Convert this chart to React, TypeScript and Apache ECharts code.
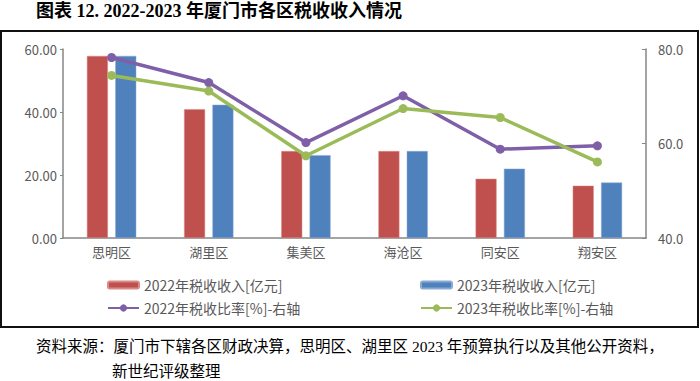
import React, { useEffect, useRef } from "react";
import * as echarts from "echarts";

const categories = ["思明区", "湖里区", "集美区", "海沧区", "同安区", "翔安区"];
const revenue2022 = [57.8, 40.9, 27.6, 27.6, 18.8, 16.6];
const revenue2023 = [57.8, 42.3, 26.3, 27.6, 22.0, 17.6];
const ratio2022 = [78.2, 72.9, 60.2, 70.1, 58.8, 59.5];
const ratio2023 = [74.4, 71.1, 57.4, 67.4, 65.5, 56.1];
const seriesNames = ["2022年税收收入[亿元]", "2023年税收收入[亿元]", "2022年税收比率[%]-右轴", "2023年税收比率[%]-右轴"];
const titleText = "图表 12. 2022-2023 年厦门市各区税收收入情况";
const sourceLine1 = "资料来源：厦门市下辖各区财政决算，思明区、湖里区 2023 年预算执行以及其他公开资料，";
const sourceLine2 = "新世纪评级整理";

const RED = "#C0504D";
const BLUE = "#4F81BD";
const PURPLE = "#7F5FA8";
const GREEN = "#9BBB59";
const AXIS = "#868686";
const LABEL = "#595959";
const FONT = "'Noto Sans CJK SC', 'Noto Sans', sans-serif";
const SERIF = "'Liberation Serif', 'DejaVu Serif', 'Noto Sans CJK SC', serif";

export default function App() {
  const ref = useRef<HTMLDivElement>(null);
  useEffect(() => {
    document.body.style.margin = "0";
    const chart = echarts.init(ref.current!, undefined, { renderer: "svg" });
    const legendText = { fontSize: 14, color: LABEL, fontFamily: FONT };
    const mkLegend = (name: string, left: number, top: number, isLine: boolean) => ({
      data: [name],
      left,
      top,
      itemWidth: 31,
      itemHeight: isLine ? 9 : 7,
      itemGap: 2,
      textStyle: legendText,
    });
    chart.setOption({
      animation: false,
      backgroundColor: "#fff",
      textStyle: { fontFamily: FONT },
      graphic: [
        {
          type: "text",
          left: 36,
          top: 2,
          style: { text: titleText, font: `bold 18px ${SERIF}`, fill: "#000" },
        },
        {
          type: "rect",
          shape: { x: 1, y: 31, width: 697, height: 296 },
          style: { fill: "none", stroke: "#111", lineWidth: 2 },
          z: 10,
        },
        {
          type: "text",
          left: 36,
          top: 339,
          style: { text: sourceLine1, font: `15.5px ${SERIF}`, fill: "#000" },
        },
        {
          type: "text",
          left: 112,
          top: 364,
          style: { text: sourceLine2, font: `15.5px ${SERIF}`, fill: "#000" },
        },
      ],
      legend: [
        mkLegend(seriesNames[0], 102, 273, false),
        mkLegend(seriesNames[1], 415, 273, false),
        mkLegend(seriesNames[2], 102, 296, true),
        mkLegend(seriesNames[3], 415, 296, true),
      ],
      grid: { left: 63, right: 54, top: 49, bottom: 143, containLabel: false },
      xAxis: {
        type: "category",
        data: categories,
        axisLine: { lineStyle: { color: AXIS, width: 1.5 } },
        axisTick: { inside: true, length: 4, lineStyle: { color: AXIS } },
        axisLabel: { color: LABEL, fontSize: 13, margin: 7, fontFamily: FONT },
      },
      yAxis: [
        {
          type: "value",
          min: 0,
          max: 60,
          interval: 20,
          splitLine: { show: false },
          axisLine: { show: true, lineStyle: { color: AXIS, width: 1.5 } },
          axisTick: { show: true, length: 3, lineStyle: { color: AXIS } },
          axisLabel: { color: LABEL, fontSize: 13, margin: 6, formatter: (v: number) => v.toFixed(2) },
        },
        {
          type: "value",
          min: 40,
          max: 80,
          interval: 20,
          position: "right",
          splitLine: { show: false },
          axisLine: { show: true, lineStyle: { color: AXIS, width: 1.5 } },
          axisTick: { show: true, inside: true, length: 4, lineStyle: { color: AXIS } },
          axisLabel: { color: LABEL, fontSize: 13, margin: 12, formatter: (v: number) => v.toFixed(1) },
        },
      ],
      series: [
        {
          name: seriesNames[0],
          type: "bar",
          data: revenue2022,
          barWidth: 21,
          barGap: "35%",
          itemStyle: { color: RED, borderColor: "#D98A88", borderWidth: 0.5 },
        },
        {
          name: seriesNames[1],
          type: "bar",
          data: revenue2023,
          barWidth: 21,
          barGap: "35%",
          itemStyle: { color: BLUE, borderColor: "#8AAAD6", borderWidth: 0.5 },
        },
        {
          name: seriesNames[2],
          type: "line",
          yAxisIndex: 1,
          data: ratio2022,
          symbol: "circle",
          symbolSize: 9,
          lineStyle: { color: PURPLE, width: 3.5 },
          itemStyle: { color: PURPLE },
        },
        {
          name: seriesNames[3],
          type: "line",
          yAxisIndex: 1,
          data: ratio2023,
          symbol: "circle",
          symbolSize: 9,
          lineStyle: { color: GREEN, width: 3.5 },
          itemStyle: { color: GREEN },
        },
      ],
    });
    return () => chart.dispose();
  }, []);
  return <div ref={ref} style={{ width: 700, height: 381 }} />;
}
